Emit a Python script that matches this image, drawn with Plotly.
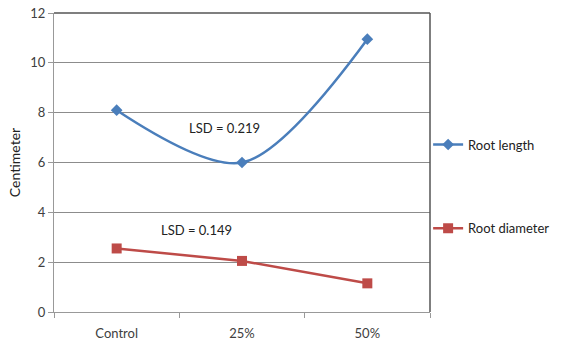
import plotly.graph_objects as go

categories = ["Control", "25%", "50%"]
root_length = [8.1, 6.0, 10.95]
root_diameter = [2.55, 2.05, 1.15]
y_ticks = [0, 2, 4, 6, 8, 10, 12]

blue = "#4a7ebb"
red = "#be4b48"
font_family = "Lato, 'Open Sans', sans-serif"
text_color = "#404040"

fig = go.Figure()
fig.add_trace(go.Scatter(
    x=categories, y=root_length, name="Root length",
    mode="lines+markers", line=dict(color=blue, width=2.5, shape="spline", smoothing=0.9),
    marker=dict(symbol="diamond", size=9, color=blue), legend="legend",
))
fig.add_trace(go.Scatter(
    x=categories, y=root_diameter, name="Root diameter",
    mode="lines+markers", line=dict(color=red, width=2.5),
    marker=dict(symbol="square", size=10, color=red), legend="legend2",
))

fig.add_annotation(x=0.86, y=7.4, text="LSD = 0.219", showarrow=False,
                   font=dict(size=13, color="#222", family=font_family))
fig.add_annotation(x=0.64, y=3.3, text="LSD = 0.149", showarrow=False,
                   font=dict(size=13, color="#222", family=font_family))

# dark frame on the top and right of the plot area
fig.add_shape(type="line", xref="paper", yref="paper", x0=0, x1=1, y0=1, y1=1,
              line=dict(color="#555", width=1.5))
fig.add_shape(type="line", xref="paper", yref="paper", x0=1, x1=1, y0=0, y1=1,
              line=dict(color="#555", width=1.5))

legend_style = dict(
    font=dict(size=13, color="#222", family=font_family),
    bgcolor="rgba(0,0,0,0)", xanchor="left", yanchor="middle", itemwidth=30,
)
fig.update_layout(
    width=576, height=346,
    margin=dict(l=54, r=146, t=13, b=34),
    paper_bgcolor="white", plot_bgcolor="white",
    font=dict(family=font_family, color=text_color, size=12),
    showlegend=True,
    legend=dict(x=0.995, y=0.56, **legend_style),
    legend2=dict(x=0.995, y=0.28, **legend_style),
    xaxis=dict(
        type="category", range=[-0.5, 2.5], tickson="boundaries",
        ticks="outside", ticklen=5, tickcolor="#999", automargin=False,
        showline=True, linecolor="#999", linewidth=1, showgrid=False,
        tickfont=dict(size=13, color=text_color), ticklabelstandoff=9,
    ),
    yaxis=dict(
        range=[0, 12], tickvals=y_ticks, ticks="outside", ticklen=5, tickcolor="#999",
        showline=True, linecolor="#999", linewidth=1, automargin=False,
        showgrid=True, gridcolor="#8c8c8c", gridwidth=1, zeroline=False,
        title=dict(text="Centimeter", font=dict(size=14, color="#222"), standoff=6),
        tickfont=dict(size=13, color=text_color),
    ),
)

fig.write_html("out.html")
